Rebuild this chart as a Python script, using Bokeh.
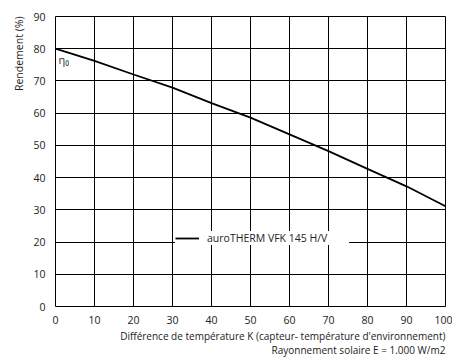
from bokeh.plotting import figure
from bokeh.models import Range1d, FixedTicker, Title, Label, Legend
from bokeh.embed import file_html
from bokeh.resources import INLINE

# data
dT = [0, 10, 20, 30, 40, 50, 60, 70, 80, 90, 100]
rendement = [80.0, 76.2, 72.0, 67.9, 63.1, 58.6, 53.4, 48.2, 42.7, 37.3, 31.1]
series_name = "auroTHERM VFK 145 H/V"
x_ticks = [0, 10, 20, 30, 40, 50, 60, 70, 80, 90, 100]
y_ticks = [0, 10, 20, 30, 40, 50, 60, 70, 80, 90]
y_title = "Rendement (%)"
x_title1 = "Différence de température K (capteur- température d'environnement)"
x_title2 = "Rayonnement solaire E = 1.000 W/m2"
eta_label = "η₀"

FONT = "Open Sans"

p = figure(width=452, height=358, output_backend="svg", toolbar_location=None,
           x_range=Range1d(0, 100), y_range=Range1d(0, 90),
           min_border_left=55, min_border_right=7, min_border_top=16, min_border_bottom=52)

p.outline_line_color = "black"
p.outline_line_width = 1
p.outline_line_alpha = 1

for ax in (p.xaxis[0], p.yaxis[0]):
    ax.axis_line_color = None
    ax.major_tick_line_color = None
    ax.minor_tick_line_color = None
    ax.major_tick_in = 0
    ax.major_tick_out = 0
    ax.major_label_text_font = FONT
    ax.major_label_text_font_size = "10.5px"
    ax.major_label_text_color = "#222222"

p.xaxis[0].ticker = FixedTicker(ticks=x_ticks)
p.yaxis[0].ticker = FixedTicker(ticks=y_ticks)
p.xaxis[0].major_label_standoff = 9
p.yaxis[0].major_label_standoff = 10

p.xgrid.ticker = FixedTicker(ticks=x_ticks)
p.ygrid.ticker = FixedTicker(ticks=y_ticks)
for g in (p.xgrid[0], p.ygrid[0]):
    g.grid_line_color = "black"
    g.grid_line_alpha = 1
    g.grid_line_width = 1

r = p.line(dT, rendement, line_color="black", line_width=1.8)

legend = Legend(items=[(series_name, [r])], location=(120, 61),
                background_fill_color="white", background_fill_alpha=1,
                border_line_color=None, padding=6, margin=0,
                glyph_width=24, glyph_height=12, label_height=12,
                label_standoff=8, label_width=142,
                label_text_font=FONT, label_text_font_size="10.5px",
                label_text_color="#222222")
p.add_layout(legend, "center")

p.add_layout(Label(x=dT[0], y=rendement[0], text=eta_label, x_offset=3, y_offset=-3,
                   text_baseline="top", text_font=FONT, text_font_size="11px",
                   text_color="#333333"))

t1 = Title(text=x_title1, align="right", text_font=FONT, text_font_size="10px",
           text_font_style="normal", text_color="#222222", standoff=1, offset=0)
t2 = Title(text=x_title2, align="right", text_font=FONT, text_font_size="10px",
           text_font_style="normal", text_color="#222222", standoff=-5, offset=0)
p.add_layout(t1, "below")
p.add_layout(t2, "below")

ty = Title(text=y_title, align="right", text_font=FONT, text_font_size="10.5px",
           text_font_style="normal", text_color="#222222", standoff=9)
p.add_layout(ty, "left")

open("out.html", "w").write(file_html(p, INLINE))
